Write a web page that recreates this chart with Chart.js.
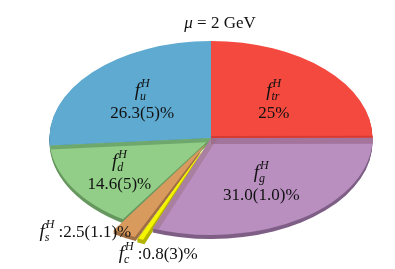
<!DOCTYPE html>
<html lang="en">
<head>
<meta charset="UTF-8">
<title>mu = 2 GeV</title>
<script src="https://cdn.jsdelivr.net/npm/chart.js"></script>
<style>
  body { margin: 0; background: #fff; }
</style>
</head>
<body>
<canvas id="pie" width="395" height="269"></canvas>
<script>
// data, clockwise from 12 o'clock
const names = ['tr', 'g', 'c', 's', 'd', 'u'];
const shares = [25, 31.0, 0.8, 2.5, 14.6, 26.3];
const shareText = ['25%', '31.0(1.0)%', '0.8(3)%', '2.5(1.1)%', '14.6(5)%', '26.3(5)%'];

const colors = ['#f4493f', '#b98fc0', '#f5f500', '#d99a5e', '#92ce88', '#5eaad0'];
const sides  = ['#b5362f', '#7f5f86', '#b3b300', '#a06f44', '#67985f', '#3f7898'];

const SX = 1.665;   // horizontal stretch -> ellipse
const DEPTH = 4;
const SERIF = '"Liberation Serif", "DejaVu Serif", serif';

function shift(a) {
  // same push-out the arc element uses when drawing
  const off = (a.options.offset || 0) / 4;
  const fix = 1 - Math.sin(Math.min(Math.PI, a.circumference || 0));
  return off * (1 + fix);
}

function toScreen(a, px, py) {
  return { x: a.x + (px - a.x) * SX, y: py };
}

// shaded strip along one straight edge of a slice (inner wall look)
function wall(ctx, a, ang, dx, dy, color) {
  ctx.save();
  ctx.beginPath();
  ctx.moveTo(a.x, a.y);
  ctx.arc(a.x, a.y, a.outerRadius, a.startAngle, a.endAngle);
  ctx.closePath();
  ctx.clip();
  const px = a.x + Math.cos(ang) * (a.outerRadius + 2);
  const py = a.y + Math.sin(ang) * (a.outerRadius + 2);
  ctx.beginPath();
  ctx.moveTo(a.x, a.y);
  ctx.lineTo(px, py);
  ctx.lineTo(px + dx, py + dy);
  ctx.lineTo(a.x + dx, a.y + dy);
  ctx.closePath();
  ctx.fillStyle = color;
  ctx.fill();
  ctx.restore();
}

// f^H_sub written at (x, baseline), returns width
function fLabel(ctx, x, y, sub, measureOnly) {
  ctx.font = 'italic 19px ' + SERIF;
  const wf = ctx.measureText('f').width + 1;
  ctx.font = 'italic 12px ' + SERIF;
  const ws = Math.max(ctx.measureText('H').width, ctx.measureText(sub).width);
  if (measureOnly) return wf + ws;
  ctx.textAlign = 'left';
  ctx.textBaseline = 'alphabetic';
  ctx.font = 'italic 19px ' + SERIF;
  ctx.fillText('f', x, y);
  ctx.font = 'italic 12px ' + SERIF;
  ctx.fillText('H', x + wf, y - 9);
  ctx.fillText(sub, x + wf - 1, y + 4);
  return wf + ws;
}

const tilt = {
  id: 'tilt',
  beforeDatasetsDraw(chart) {
    const ctx = chart.ctx;
    const arcs = chart.getDatasetMeta(0).data;
    const c = arcs[0];
    ctx.save();
    ctx.translate(c.x, c.y);
    ctx.scale(SX, 1);
    ctx.translate(-c.x, -c.y);
    // side walls
    for (let d = DEPTH; d >= 1; d--) {
      arcs.forEach((a, i) => {
        const mid = (a.startAngle + a.endAngle) / 2;
        const s = shift(a);
        const cx = a.x + Math.cos(mid) * s;
        const cy = a.y + Math.sin(mid) * s + d;
        ctx.beginPath();
        ctx.moveTo(cx, cy);
        ctx.arc(cx, cy, a.outerRadius, a.startAngle, a.endAngle);
        ctx.closePath();
        ctx.fillStyle = sides[i];
        ctx.fill();
      });
    }
  },
  afterDatasetsDraw(chart) {
    const ctx = chart.ctx;
    const arcs = chart.getDatasetMeta(0).data;
    // inner walls seen along some edges
    wall(ctx, arcs[0], arcs[0].endAngle, 0, -2, '#d53b33');
    wall(ctx, arcs[1], arcs[1].startAngle, 0, 6, '#a3749c');
    wall(ctx, arcs[1], arcs[1].endAngle, 4, 0, 'rgba(150,110,120,0.45)');
    wall(ctx, arcs[4], arcs[4].endAngle, 0, 4, '#6fa86c');
    ctx.restore();

    ctx.save();
    ctx.fillStyle = '#111';

    // title
    ctx.textBaseline = 'alphabetic';
    ctx.font = '17px ' + SERIF;
    const rest = ' = 2 GeV';
    const wr = ctx.measureText(rest).width;
    ctx.font = 'italic 17px ' + SERIF;
    const wm = ctx.measureText('\u03bc').width;
    let tx = 220 - (wm + wr) / 2;
    ctx.textAlign = 'left';
    ctx.fillText('\u03bc', tx, 28);
    ctx.font = '17px ' + SERIF;
    ctx.fillText(rest, tx + wm, 28);

    const inner = { tr: 0.55, g: 0.55, d: 0.66, u: 0.58 };
    arcs.forEach((a, i) => {
      const mid = (a.startAngle + a.endAngle) / 2;
      const name = names[i];
      if (inner[name]) {
        const r = a.outerRadius * inner[name];
        const p = toScreen(a, a.x + Math.cos(mid) * r, a.y + Math.sin(mid) * r);
        const w = fLabel(ctx, 0, 0, name, true);
        fLabel(ctx, p.x - w / 2, p.y - 4, name);
        ctx.font = '17px ' + SERIF;
        ctx.textAlign = 'center';
        ctx.fillText(shareText[i], p.x, p.y + 18);
      } else {
        const r = a.outerRadius + shift(a);
        const p = toScreen(a, a.x + Math.cos(mid) * r, a.y + Math.sin(mid) * r);
        ctx.font = '17px ' + SERIF;
        const txt = ':' + shareText[i];
        const wt = ctx.measureText(txt).width;
        const wf = fLabel(ctx, 0, 0, name, true);
        let x0, y0;
        if (name === 's') { x0 = p.x + 7 - (wf + 4 + wt); y0 = p.y + 3; }
        else { x0 = p.x - 22; y0 = p.y + 20; }
        fLabel(ctx, x0, y0, name);
        ctx.font = '17px ' + SERIF;
        ctx.textAlign = 'left';
        ctx.fillText(txt, x0 + wf + 4, y0);
      }
    });
    ctx.restore();
  }
};

new Chart(document.getElementById('pie'), {
  type: 'pie',
  data: {
    labels: names,
    datasets: [{
      data: shares,
      backgroundColor: colors,
      borderWidth: 0,
      offset: [0, 0, 26, 26, 0, 0]
    }]
  },
  options: {
    responsive: false,
    animation: false,
    radius: 97,
    layout: { padding: { left: 27, right: 0, top: 7, bottom: 0 } },
    events: [],
    plugins: {
      legend: { display: false },
      tooltip: { enabled: false },
      title: { display: false }
    }
  },
  plugins: [tilt]
});
</script>
</body>
</html>
